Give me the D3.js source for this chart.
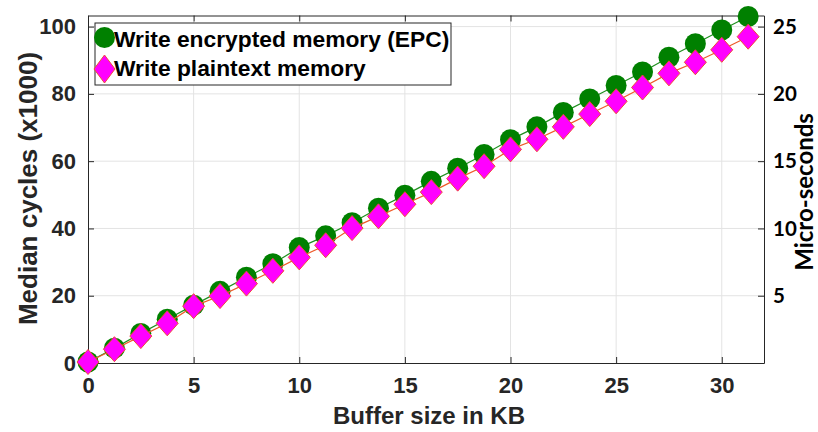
<!DOCTYPE html>
<html>
<head>
<meta charset="utf-8">
<script src="https://cdn.jsdelivr.net/npm/d3@7"></script>
<style>
  body { margin: 0; background: #fff; }
  svg { display: block; }
</style>
</head>
<body>
<script>
var bufferKB = [0, 1.25, 2.5, 3.75, 5, 6.25, 7.5, 8.75, 10, 11.25, 12.5, 13.75, 15,
                16.25, 17.5, 18.75, 20, 21.25, 22.5, 23.75, 25, 26.25, 27.5, 28.75, 30, 31.25];
var epcCycles = [0.3, 4.4, 8.8, 13.0, 17.2, 21.3, 25.5, 29.5, 34.3, 37.8, 41.7, 46.0, 49.9,
                 54.0, 57.9, 62.0, 66.4, 70.2, 74.5, 78.5, 82.5, 86.5, 90.9, 94.9, 99.0, 103.0];
var plainCycles = [0.3, 4.1, 8.0, 11.8, 16.9, 19.9, 23.6, 27.4, 31.4, 35.0, 40.1, 43.6, 47.2,
                   50.8, 54.8, 58.5, 63.5, 66.5, 70.2, 74.0, 77.8, 81.9, 86.1, 89.4, 93.1, 97.0];
var xTicks = [0, 5, 10, 15, 20, 25, 30];
var yTicks = [0, 20, 40, 60, 80, 100];
var usTicks = [5, 10, 15, 20, 25];
var seriesNames = ["Write encrypted memory (EPC)", "Write plaintext memory"];

var W = 818, H = 432;
var margin = {top: 15.5, right: 54, bottom: 69, left: 88},
    width = W - margin.left - margin.right,
    height = H - margin.top - margin.bottom;

var x = d3.scaleLinear().domain([0, 32]).range([0, width]);
var y = d3.scaleLinear().domain([0, 103.3]).range([height, 0]);
// right axis: micro-seconds = cycles(x1000) / 4
var y2 = d3.scaleLinear().domain([0, 103.3 / 4]).range([height, 0]);

var axisColor = "#262626";
var leftFont = "'Liberation Sans', Arial, sans-serif";

var svg = d3.select("body").append("svg")
    .attr("width", W)
    .attr("height", H);

var g = svg.append("g")
    .attr("transform", "translate(" + margin.left + "," + margin.top + ")");

// grid
g.append("g").selectAll("line").data(xTicks.slice(1)).enter().append("line")
    .attr("x1", function(d){ return x(d); }).attr("x2", function(d){ return x(d); })
    .attr("y1", 0).attr("y2", height)
    .attr("stroke", "#e3e3e3").attr("stroke-width", 1);
g.append("g").selectAll("line").data(yTicks.slice(1)).enter().append("line")
    .attr("y1", function(d){ return y(d); }).attr("y2", function(d){ return y(d); })
    .attr("x1", 0).attr("x2", width)
    .attr("stroke", "#e3e3e3").attr("stroke-width", 1);

// axes (ticks pointing inward)
function styleAxis(sel) {
    sel.select(".domain").attr("stroke", axisColor);
    sel.selectAll(".tick line").attr("stroke", axisColor);
}

var xAxis = d3.axisBottom(x).tickValues(xTicks).tickSizeInner(-6).tickSizeOuter(0).tickPadding(14);
g.append("g")
    .attr("transform", "translate(0," + height + ")")
    .call(xAxis)
    .call(styleAxis)
    .selectAll("text")
    .attr("font-family", leftFont).attr("font-size", 22).attr("font-weight", "bold")
    .attr("fill", axisColor);

g.append("g")
    .call(d3.axisTop(x).tickValues(xTicks).tickSizeInner(-6).tickSizeOuter(0).tickFormat(""))
    .call(styleAxis);

var yAxis = d3.axisLeft(y).tickValues(yTicks).tickSizeInner(-6).tickSizeOuter(0).tickPadding(12);
g.append("g")
    .call(yAxis)
    .call(styleAxis)
    .selectAll("text")
    .attr("font-family", leftFont).attr("font-size", 22).attr("font-weight", "bold")
    .attr("fill", axisColor);

var y2Axis = d3.axisRight(y2).tickValues(usTicks).tickSizeInner(-6).tickSizeOuter(0).tickPadding(9);
g.append("g")
    .attr("transform", "translate(" + width + ",0)")
    .call(y2Axis)
    .call(styleAxis)
    .selectAll("text")
    .attr("font-family", "Lato, sans-serif").attr("font-size", 20.5).attr("font-weight", "bold")
    .attr("fill", "#000");

// lines + markers
var epcData = bufferKB.map(function(d, i){ return {x: d, y: epcCycles[i]}; });
var plainData = bufferKB.map(function(d, i){ return {x: d, y: plainCycles[i]}; });

var line = d3.line()
    .x(function(d){ return x(d.x); })
    .y(function(d){ return y(d.y); });

var diamond = function(cx, cy, w, h) {
    return "M" + cx + "," + (cy - h) + "L" + (cx + w) + "," + cy + "L" + cx + "," + (cy + h) + "L" + (cx - w) + "," + cy + "Z";
};

g.append("path").datum(epcData)
    .attr("d", line).attr("fill", "none")
    .attr("stroke", "#1f8f1f").attr("stroke-width", 1.2);
g.selectAll("circle.epc").data(epcData).enter().append("circle")
    .attr("class", "epc")
    .attr("cx", function(d){ return x(d.x); })
    .attr("cy", function(d){ return y(d.y); })
    .attr("r", 10.5)
    .attr("fill", "#008000");

g.append("path").datum(plainData)
    .attr("d", line).attr("fill", "none")
    .attr("stroke", "#ee5a28").attr("stroke-width", 1.2);
g.selectAll("path.plain").data(plainData).enter().append("path")
    .attr("class", "plain")
    .attr("d", function(d){ return diamond(x(d.x), y(d.y), 11, 12.5); })
    .attr("fill", "#ff00ff")
    .attr("stroke", "#f04a3a").attr("stroke-width", 1);

// legend
var lg = svg.append("g");
lg.append("rect")
    .attr("x", 95).attr("y", 23).attr("width", 356).attr("height", 62)
    .attr("fill", "#fff").attr("stroke", axisColor).attr("stroke-width", 1);
lg.append("circle").attr("cx", 104.5).attr("cy", 37.5).attr("r", 10.5).attr("fill", "#008000");
lg.append("path").attr("d", diamond(104.5, 69, 10.5, 14))
    .attr("fill", "#ff00ff").attr("stroke", "#f04a3a").attr("stroke-width", 1);
lg.selectAll("text").data(seriesNames).enter().append("text")
    .attr("x", 114)
    .attr("y", function(d, i){ return 46.5 + i * 29; })
    .attr("font-family", leftFont).attr("font-size", 22.8).attr("font-weight", "bold")
    .attr("fill", "#000")
    .text(function(d){ return d; });

// axis titles
svg.append("text")
    .attr("transform", "translate(37,188.5) rotate(-90)")
    .attr("text-anchor", "middle")
    .attr("font-family", leftFont).attr("font-size", 26).attr("font-weight", "bold")
    .attr("fill", axisColor)
    .text("Median cycles (x1000)");

svg.append("text")
    .attr("x", margin.left + x(16) + 3)
    .attr("y", 424)
    .attr("text-anchor", "middle")
    .attr("font-family", leftFont).attr("font-size", 24).attr("font-weight", "bold")
    .attr("fill", axisColor)
    .text("Buffer size in KB");

svg.append("text")
    .attr("transform", "translate(813,192) rotate(-90)")
    .attr("text-anchor", "middle")
    .attr("font-family", "Lato, sans-serif").attr("font-size", 24).attr("font-weight", "bold")
    .attr("fill", "#000")
    .text("Micro-seconds");
</script>
</body>
</html>
